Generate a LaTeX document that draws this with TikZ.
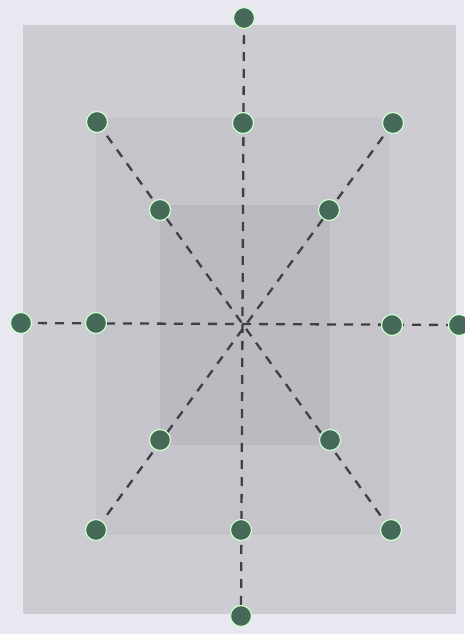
\documentclass[tikz,border=0pt]{standalone}
\usepackage{xcolor}
\usepackage{tikz}
\usetikzlibrary{backgrounds}
\definecolor{paper}{HTML}{E9E7EF}
\definecolor{zoneA}{HTML}{CDCCD2}
\definecolor{zoneB}{HTML}{C5C4CA}
\definecolor{zoneC}{HTML}{BBBAC1}
\definecolor{pin}{HTML}{46695A}
\definecolor{guide}{HTML}{3F3F48}

\begin{document}
\begin{tikzpicture}[
        x=1pt, y=-1pt,
        dot/.style={circle, fill=pin, draw=green!20!white, line width=1.2pt, minimum size=21pt, inner sep=0pt},
        ray/.style={draw=guide, line width=2.3pt, dash pattern=on 9pt off 8pt}
    ]
        \useasboundingbox (0,0) rectangle (464,634);

        % axis dots
        \node[dot] (ntop) at (244,18) {};
        \node[dot] (nbot) at (241,616) {};
        \node[dot] (nleft) at (21,323) {};
        \node[dot] (nright) at (459,325) {};
        \node[dot] (mtop) at (243,123) {};
        \node[dot] (mbot) at (241,530) {};
        \node[dot] (mleft) at (96,323) {};
        \node[dot] (mright) at (392,325) {};
        % diagonal dots
        \node[dot] (otl) at (97,122) {};
        \node[dot] (otr) at (393,123) {};
        \node[dot] (obl) at (96,530) {};
        \node[dot] (obr) at (391,530) {};
        \node[dot] (itl) at (160,210) {};
        \node[dot] (itr) at (329,210) {};
        \node[dot] (ibl) at (160,440) {};
        \node[dot] (ibr) at (330,440) {};

        \begin{scope}[on background layer]
            \fill[paper] (0,0) rectangle (464,634);
            \fill[zoneA] (23,25) rectangle (456,614);
            \fill[zoneB] (96,118) rectangle (390,535);
            \fill[zoneC] (160,205) rectangle (330,445);
            \draw[ray] (ntop.center) -- (nbot.center);
            \draw[ray] (nleft.center) -- (nright.center);
            \draw[ray] (otl.center) -- (obr.center);
            \draw[ray] (otr.center) -- (obl.center);
        \end{scope}
    \end{tikzpicture}
\end{document}
